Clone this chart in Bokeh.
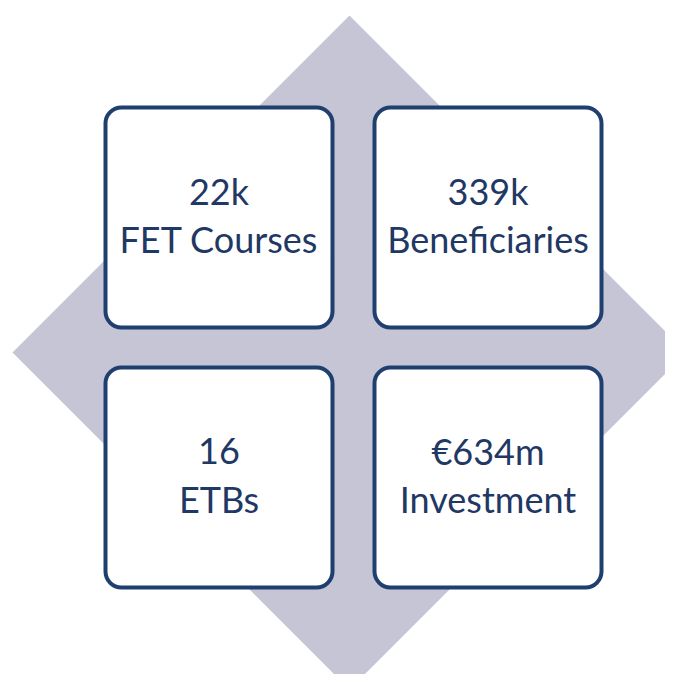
from bokeh.plotting import figure
from bokeh.models import Range1d, ColumnDataSource
from bokeh.core.properties import value
from bokeh.embed import file_html
from bokeh.resources import INLINE

# Data
values = ["22k", "339k", "16", "€634m"]
labels = ["FET Courses", "Beneficiaries", "ETBs", "Investment"]

# Layout (pixel-like coordinates of the reference image)
W, H = 665, 674
col_x = [218.5, 487.5, 218.5, 487.5]
row_y = [217, 217, 477, 477]
box_w, box_h = 227, 220
value_dy, label_dy = -27, 21

p = figure(width=W, height=H, output_backend="svg", toolbar_location=None,
           x_range=Range1d(0, W), y_range=Range1d(H, 0),
           min_border=0, background_fill_color="white", border_fill_color="white")
p.axis.visible = False
p.grid.visible = False
p.outline_line_color = None

# diamond background
cx, cy, r = 349, 352, 337
p.patch([cx, cx + r, cx, cx - r], [cy - r, cy, cy + r, cy],
        fill_color="#C5C5D6", line_color=None)

src = ColumnDataSource(dict(
    x=col_x, y=row_y,
    vy=[y + value_dy for y in row_y],
    ly=[y + label_dy for y in row_y],
    values=values, labels=labels))

p.rect(x="x", y="y", width=box_w, height=box_h, source=src,
       fill_color="white", line_color="#1F3F6E", line_width=4,
       border_radius=16)

for col, ycol in (("values", "vy"), ("labels", "ly")):
    p.text(x="x", y=ycol, text=col, source=src,
           text_font=value("Lato"), text_font_size="36px",
           text_color="#1F3864", text_align="center", text_baseline="middle")

open("out.html", "w").write(file_html(p, INLINE))
